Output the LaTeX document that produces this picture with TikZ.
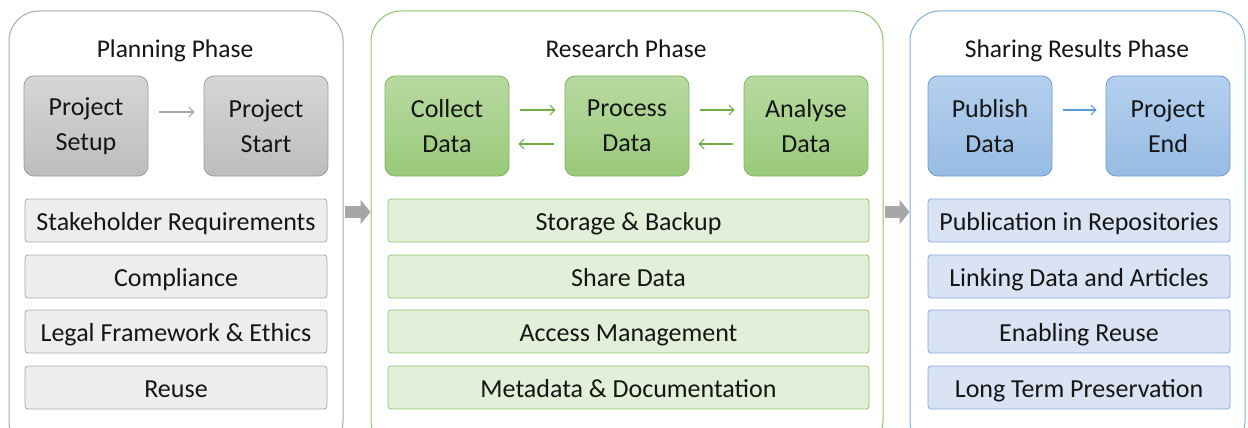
\documentclass[tikz,border=0pt]{standalone}
\usepackage{fontspec}
\setmainfont{Carlito}
\usetikzlibrary{arrows.meta}
\definecolor{gpan}{HTML}{A8A8A8}
\definecolor{gbox}{HTML}{9C9C9C}
\definecolor{gtop}{HTML}{D6D6D6}
\definecolor{gbot}{HTML}{BDBDBD}
\definecolor{glist}{HTML}{EDEDED}
\definecolor{gline}{HTML}{A9A9A9}
\definecolor{npan}{HTML}{8CC56A}
\definecolor{nbox}{HTML}{7DB85A}
\definecolor{ntop}{HTML}{B8DAA1}
\definecolor{nbot}{HTML}{99C97A}
\definecolor{nlist}{HTML}{E2EFD9}
\definecolor{nline}{HTML}{8CC56A}
\definecolor{narr}{HTML}{70AD47}
\definecolor{bpan}{HTML}{7FAFDD}
\definecolor{bbox}{HTML}{6A9ED4}
\definecolor{btop}{HTML}{B5D0EE}
\definecolor{bbot}{HTML}{97BBE3}
\definecolor{blist}{HTML}{DAE3F3}
\definecolor{bline}{HTML}{7FAADB}
\definecolor{barr}{HTML}{5B9BD5}
\definecolor{bigarr}{HTML}{A6A6A6}
\definecolor{txt}{HTML}{151515}
\tikzset{
  panel/.style={draw=#1, line width=1pt, fill=white, rounded corners=30pt, minimum height=440pt, inner sep=0pt},
  phtitle/.style={font=\fontsize{25.5}{28}\selectfont, text=txt, text height=18pt, text depth=6pt, inner sep=0pt},
  topbox/.style 2 args={draw=#1, line width=0.8pt, rounded corners=10pt, minimum width=124pt, minimum height=100pt,
     inner sep=0pt, align=center, font=\fontsize{26}{35}\selectfont, top color=#2, text=txt},
  listbox/.style={line width=0.8pt, rounded corners=3pt, minimum height=43pt, inner sep=0pt,
     font=\fontsize{26}{30}\selectfont, text height=24pt, text depth=5pt, text=txt},
  smallarrow/.style={draw=#1, line width=1.1pt, -{Straight Barb[length=5pt,width=10pt]}},
  bigarrow/.style={draw=bigarr, line width=12pt, -{Triangle[length=10pt,width=24pt]}, shorten <=1pt}
}
\begin{document}
\begin{tikzpicture}[x=1pt,y=-1pt]
\useasboundingbox (0,0) rectangle (1248,428);
\clip (0,0) rectangle (1248,428);
\fill[white] (0,0) rectangle (1248,428);
% panels
\node[panel=gpan, minimum width=334pt] (lp) at (176,231) {};
\node[panel=npan, minimum width=512pt] (mp) at (627,231) {};
\node[panel=bpan, minimum width=335pt] (rp) at (1077.5,231) {};
% titles
\node[phtitle] (lt) at (175,51.5) {Planning Phase};
\node[phtitle] (mt) at (626,51.5) {Research Phase};
\node[phtitle] (rt) at (1077,51.5) {Sharing Results Phase};
% top boxes
\node[topbox={gbox}{gtop}, bottom color=gbot] (setup) at (86,126) {Project\\Setup};
\node[topbox={gbox}{gtop}, bottom color=gbot] (start) at (266,126) {Project\\Start};
\node[topbox={nbox}{ntop}, bottom color=nbot] (collect) at (447,126) {Collect\\Data};
\node[topbox={nbox}{ntop}, bottom color=nbot] (process) at (627,126) {Process\\Data};
\node[topbox={nbox}{ntop}, bottom color=nbot] (analyse) at (806,126) {Analyse\\Data};
\node[topbox={bbox}{btop}, bottom color=bbot] (publish) at (990,126) {Publish\\Data};
\node[topbox={bbox}{btop}, bottom color=bbot] (pend) at (1168,126) {Project\\End};
% small arrows
\draw[smallarrow=gline, shorten <=11pt, shorten >=9pt] ([yshift=14pt]setup.east) -- ([yshift=14pt]start.west);
\draw[smallarrow=narr, shorten <=11pt, shorten >=9pt] ([yshift=16pt]collect.east) -- ([yshift=16pt]process.west);
\draw[smallarrow=narr, shorten <=11pt, shorten >=9pt] ([yshift=-18pt]process.west) -- ([yshift=-18pt]collect.east);
\draw[smallarrow=narr, shorten <=11pt, shorten >=9pt] ([yshift=16pt]process.east) -- ([yshift=16pt]analyse.west);
\draw[smallarrow=narr, shorten <=11pt, shorten >=9pt] ([yshift=-18pt]analyse.west) -- ([yshift=-18pt]process.east);
\draw[smallarrow=barr, shorten <=11pt, shorten >=9pt] ([yshift=16pt]publish.east) -- ([yshift=16pt]pend.west);
% list boxes left
\node[listbox, draw=gline, fill=glist, minimum width=302pt] (l1) at (176,220.5) {Stakeholder Requirements};
\node[listbox, draw=gline, fill=glist, minimum width=302pt] (l2) at (176,276.5) {Compliance};
\node[listbox, draw=gline, fill=glist, minimum width=302pt] (l3) at (176,331.5) {Legal Framework \& Ethics};
\node[listbox, draw=gline, fill=glist, minimum width=302pt] (l4) at (176,387.5) {Reuse};
% list boxes middle
\node[listbox, draw=nline, fill=nlist, minimum width=481pt] (m1) at (628.5,220.5) {Storage \& Backup};
\node[listbox, draw=nline, fill=nlist, minimum width=481pt] (m2) at (628.5,276.5) {Share Data};
\node[listbox, draw=nline, fill=nlist, minimum width=481pt] (m3) at (628.5,331.5) {Access Management};
\node[listbox, draw=nline, fill=nlist, minimum width=481pt] (m4) at (628.5,387.5) {Metadata \& Documentation};
% list boxes right
\node[listbox, draw=bline, fill=blist, minimum width=302pt] (r1) at (1079,220.5) {Publication in Repositories};
\node[listbox, draw=bline, fill=blist, minimum width=302pt] (r2) at (1079,276.5) {Linking Data and Articles};
\node[listbox, draw=bline, fill=blist, minimum width=302pt] (r3) at (1079,331.5) {Enabling Reuse};
\node[listbox, draw=bline, fill=blist, minimum width=302pt] (r4) at (1079,387.5) {Long Term Preservation};
% big arrows between phases
\coordinate (ay) at (0,212);
\draw[bigarrow] (lp.east |- ay) -- (mp.west |- ay);
\draw[bigarrow] (mp.east |- ay) -- (rp.west |- ay);
\end{tikzpicture}
\end{document}
